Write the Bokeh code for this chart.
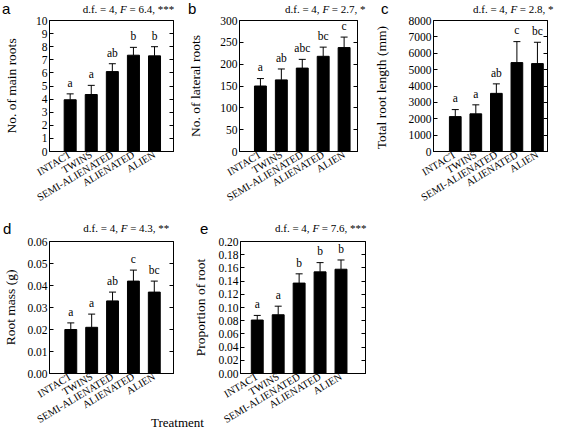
import math
from bokeh.plotting import figure
from bokeh.models import (ColumnDataSource, Range1d, FixedTicker, LinearAxis,
                          Whisker, TeeHead, Div)
from bokeh.layouts import row, column
from bokeh.embed import file_html
from bokeh.resources import INLINE
from bokeh.core.properties import value

SERIF = "Liberation Serif"
SANS = "Liberation Sans"

# ---------------- data ----------------
treatments = ["INTACT", "TWINS", "SEMI-ALIENATED", "ALIENATED", "ALIEN"]
x_pos = [1, 2, 3, 4, 5]

main_mean = [3.95, 4.35, 6.1, 7.35, 7.3]
main_se = [0.45, 0.7, 0.6, 0.6, 0.7]
main_letters = ["a", "a", "ab", "b", "b"]
main_ticks = [0, 1, 2, 3, 4, 5, 6, 7, 8, 9, 10]
main_tick_labels = ["0", "1", "2", "3", "4", "5", "6", "7", "8", "9", "10"]

lat_mean = [150, 164, 191, 218, 238]
lat_se = [17, 25, 20, 21, 24]
lat_letters = ["a", "ab", "abc", "bc", "c"]
lat_ticks = [0, 50, 100, 150, 200, 250, 300]
lat_tick_labels = ["0", "50", "100", "150", "200", "250", "300"]

len_mean = [2130, 2300, 3550, 5430, 5370]
len_se = [430, 550, 580, 1280, 1300]
len_letters = ["a", "a", "ab", "c", "bc"]
len_ticks = [0, 1000, 2000, 3000, 4000, 5000, 6000, 7000, 8000]
len_tick_labels = ["0", "1000", "2000", "3000", "4000", "5000", "6000", "7000", "8000"]

mass_mean = [0.020, 0.021, 0.033, 0.042, 0.037]
mass_se = [0.003, 0.006, 0.004, 0.005, 0.005]
mass_letters = ["a", "a", "ab", "c", "bc"]
mass_ticks = [0.0, 0.01, 0.02, 0.03, 0.04, 0.05, 0.06]
mass_tick_labels = ["0.00", "0.01", "0.02", "0.03", "0.04", "0.05", "0.06"]

prop_mean = [0.081, 0.089, 0.137, 0.154, 0.158]
prop_se = [0.007, 0.013, 0.014, 0.014, 0.014]
prop_letters = ["a", "a", "b", "b", "b"]
prop_ticks = [0.0, 0.02, 0.04, 0.06, 0.08, 0.1, 0.12, 0.14, 0.16, 0.18, 0.2]
prop_tick_labels = ["0.00", "0.02", "0.04", "0.06", "0.08", "0.10", "0.12",
                    "0.14", "0.16", "0.18", "0.20"]

panel_tags = ["a", "b", "c", "d", "e"]
stat_df = "4"
stat_F = ["6.4", "2.7", "2.8", "4.3", "7.6"]
stat_sig = ["***", "*", "*", "**", "***"]
x_title = "Treatment"

# font metrics (ascent, descent per em) to place HTML text by baseline
METRICS = {SANS: (0.905, 0.212), SERIF: (0.891, 0.216)}


def span(text, left, baseline, font, size, extra=""):
    asc, desc = METRICS[font]
    top = baseline - ((size - (asc + desc) * size) / 2 + asc * size)
    return ('<span style="position:absolute;left:%.1fpx;top:%.1fpx;'
            'font-family:\'%s\';font-size:%spx;line-height:%spx;color:#000;'
            'white-space:nowrap;%s">%s</span>'
            % (left, top, font, size, size, extra, text))


def header(width, height, tag, tag_xy, F, sig, stat_xy):
    html = ('<div style="position:relative;width:%dpx;height:%dpx;">' % (width, height))
    html += span(tag, tag_xy[0], tag_xy[1], SANS, 15)
    stat = "d.f. = %s, <i>F</i> = %s, %s" % (stat_df, F, sig)
    html += span(stat, stat_xy[0], stat_xy[1], SERIF, 11)
    html += "</div>"
    return Div(text=html, width=width, height=height, margin=0)


def make_panel(ylabel, means, ses, letters, ticks, tick_labels, g):
    ymax = ticks[-1]
    W = g["BL"] + g["FW"] + g["BR"]
    H = g["BT"] + g["FH"] + g["BB"]
    p = figure(width=W, height=H,
               min_border_left=g["BL"], min_border_right=g["BR"],
               min_border_top=g["BT"], min_border_bottom=g["BB"],
               x_range=Range1d(*g["xr"]), y_range=Range1d(0, ymax),
               toolbar_location=None, output_backend="svg", tools="",
               margin=0)
    p.background_fill_color = "white"
    p.border_fill_color = None
    p.outline_line_color = "black"
    p.outline_line_width = 1
    p.xgrid.visible = False
    p.ygrid.visible = False

    upper = [m + s for m, s in zip(means, ses)]
    src = ColumnDataSource(dict(x=x_pos, mean=means, upper=upper, letter=letters,
                                ly=[u + 0.085 * ymax for u in upper]))
    p.vbar(x="x", top="mean", bottom=0, width=0.57, source=src,
           fill_color="black", line_color="black")
    p.add_layout(Whisker(base="x", upper="upper", lower="mean", source=src,
                         upper_head=TeeHead(size=7, line_color="black", line_width=1),
                         lower_head=None, line_color="black", line_width=1,
                         level="annotation"))
    p.text(x="x", y="ly", text="letter", source=src, text_font=value(SERIF),
           text_font_size="11.5px", text_align="center",
           text_baseline="alphabetic", text_color="black")

    ya = p.yaxis[0]
    ya.ticker = FixedTicker(ticks=ticks)
    ya.major_label_overrides = dict(zip(ticks, tick_labels))
    ya.major_tick_in = 4
    ya.major_tick_out = 0
    ya.minor_tick_in = 0
    ya.minor_tick_out = 0
    ya.major_label_standoff = 2
    ya.major_label_text_font = SERIF
    ya.major_label_text_font_size = "11.5px"
    ya.major_label_text_color = "black"
    ya.axis_line_color = "black"
    ya.major_tick_line_color = "black"
    ya.axis_label = ylabel
    ya.axis_label_text_font = SERIF
    ya.axis_label_text_font_style = "normal"
    ya.axis_label_text_font_size = "13.5px"
    ya.axis_label_text_color = "black"
    ya.axis_label_standoff = g["S"]

    ra = LinearAxis(ticker=FixedTicker(ticks=ticks), major_tick_in=4,
                    major_tick_out=0, minor_tick_in=0, minor_tick_out=0,
                    major_label_overrides={t: "" for t in ticks},
                    major_label_text_font_size="0px", major_label_standoff=0,
                    axis_line_color="black", major_tick_line_color="black")
    p.add_layout(ra, "right")

    xa = p.xaxis[0]
    xa.ticker = FixedTicker(ticks=x_pos)
    xa.major_label_overrides = dict(zip(x_pos, treatments))
    xa.major_label_orientation = math.radians(31)
    xa.major_tick_in = 0
    xa.major_tick_out = 0
    xa.minor_tick_in = 0
    xa.minor_tick_out = 0
    xa.major_label_standoff = 2
    xa.major_label_text_font = SERIF
    xa.major_label_text_font_size = "10.5px"
    xa.major_label_text_color = "black"
    xa.axis_line_color = "black"
    return p


ga = dict(BL=39, FW=134, BR=12, BT=6, FH=133, BB=57, xr=(0.02, 5.9), S=14)
gb = dict(BL=45, FW=127, BR=13, BT=6, FH=133, BB=57, xr=(0.0, 5.64), S=14)
gc = dict(BL=53, FW=124, BR=14, BT=6, FH=133, BB=57, xr=(-0.06, 5.49), S=17)
gd = dict(BL=40, FW=133, BR=17, BT=6, FH=134, BB=57, xr=(-0.02, 5.92), S=6)
ge = dict(BL=41, FW=134, BR=196, BT=6, FH=134, BB=57, xr=(0.2, 6.17), S=7)

pa = make_panel("No. of main roots", main_mean, main_se, main_letters,
                main_ticks, main_tick_labels, ga)
pb = make_panel("No. of lateral roots", lat_mean, lat_se, lat_letters,
                lat_ticks, lat_tick_labels, gb)
pc = make_panel("Total root  length (mm)", len_mean, len_se, len_letters,
                len_ticks, len_tick_labels, gc)
pd = make_panel("Root mass (g)", mass_mean, mass_se, mass_letters,
                mass_ticks, mass_tick_labels, gd)
pe = make_panel("Proportion of root", prop_mean, prop_se, prop_letters,
                prop_ticks, prop_tick_labels, ge)

ha = header(185, 14, panel_tags[0], (2, 13.5), stat_F[0], stat_sig[0], (82.7, 13))
hb = header(185, 14, panel_tags[1], (3, 13.5), stat_F[1], stat_sig[1], (100, 13))
hc = header(191, 14, panel_tags[2], (11, 13.5), stat_F[2], stat_sig[2], (103, 13))
hd = header(190, 25, panel_tags[3], (3, 24), stat_F[3], stat_sig[3], (83.3, 22.5))
he = header(371, 25, panel_tags[4], (10, 24), stat_F[4], stat_sig[4], (85, 22.5))

tr_html = ('<div style="position:relative;width:70px;height:14px;">'
           + span(x_title, 0, 10, SERIF, 13) + '</div>')
tr = Div(text=tr_html, width=70, height=14, margin=(-15, 0, 0, 151))

top_row = row(column(ha, pa, spacing=0), column(hb, pb, spacing=0),
              column(hc, pc, spacing=0), spacing=0)
bottom_row = row(column(hd, pd, spacing=0), column(he, pe, spacing=0), spacing=0)
layout = column(top_row, bottom_row, tr, spacing=0)

with open("out.html", "w") as f:
    f.write(file_html(layout, INLINE))
